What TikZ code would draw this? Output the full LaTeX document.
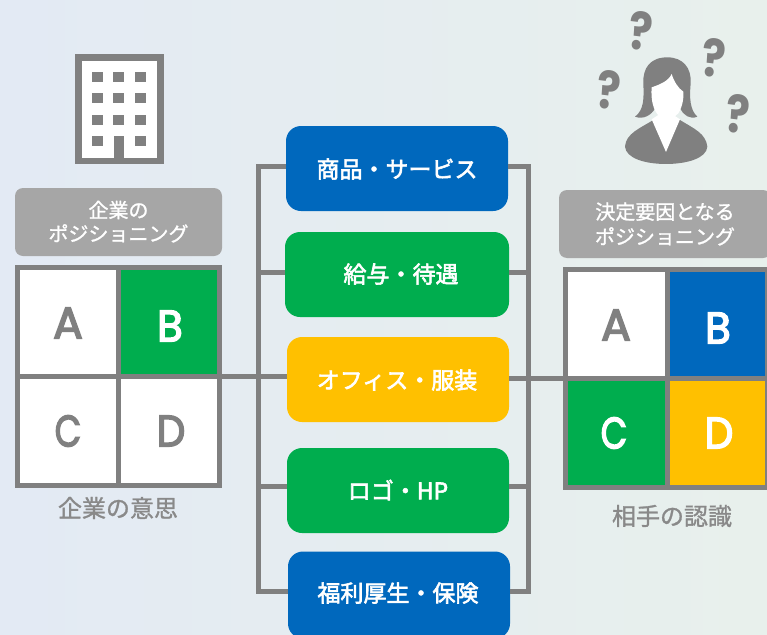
\documentclass[tikz,border=0pt]{standalone}
\usepackage{fontspec}
\setmainfont{Poppins}
\newfontfamily\jp{Noto Sans CJK JP}
\newfontfamily\jpm[FakeBold=2.5]{Noto Sans CJK JP}
\newfontfamily\jpl[FakeBold=1.2]{Noto Sans CJK JP}
\newfontfamily\lettr[FakeBold=3.5]{Poppins}
\definecolor{lineg}{HTML}{808080}
\definecolor{labelg}{HTML}{A6A6A6}
\definecolor{txtg}{HTML}{898989}
\definecolor{cblue}{HTML}{0068BD}
\definecolor{cgreen}{HTML}{00AD4E}
\definecolor{cyellow}{HTML}{FFC000}
\definecolor{bgl}{HTML}{E3EAF4}
\definecolor{bgm}{HTML}{E9EEF2}
\definecolor{bgr}{HTML}{E8F0EC}
\tikzset{
  box/.style={rounded corners=15pt,minimum width=222pt,minimum height=85pt,inner sep=0,text=white,font=\jpm\fontsize{23}{23}\selectfont},
  boxtext/.style={inner sep=0,text=white,font=\jpm\fontsize{23}{23}\selectfont},
  conn/.style={draw=lineg,line width=5pt},
  cell/.style={draw=lineg,line width=5pt,minimum width=101pt,minimum height=109pt,inner sep=0},
  letter/.style={inner sep=0,font=\lettr\fontsize{44}{44}\selectfont},
  greylabel/.style={fill=labelg,rounded corners=8pt,inner sep=0,text=white,align=center,font=\jpl\fontsize{20}{25}\selectfont},
  caption/.style={text=txtg,inner sep=0,font=\jpl\fontsize{24}{24}\selectfont},
  qm/.style={text=lineg,inner sep=0,xscale=0.85,font=\bfseries\fontsize{52}{52}\selectfont}
}
\begin{document}
\begin{tikzpicture}[x=1pt,y=-1pt]
\useasboundingbox (0,0) rectangle (767,634);
\shade[left color=bgl,middle color=bgm,right color=bgr] (0,0) rectangle (767,634);
% building
\fill[lineg] (75,54) rectangle (163.5,164);
\fill[white] (82,61) rectangle (157,158);
\foreach \x in {92,113,135}\foreach \y in {72,93,115}
  \fill[lineg] (\x,\y) rectangle ++(11,10);
\fill[lineg] (92,136) rectangle ++(11,10);
\fill[lineg] (135,136) rectangle ++(11,10);
\fill[lineg] (113.5,136) rectangle (124,158);
% person (zoom coordinates: 540+x/3, y/3)
\begin{scope}[shift={(540,0)},x=0.3333pt,y=-0.3333pt]
\fill[lineg] (255,440) .. controls (258,400) and (300,385) .. (340,360) -- (420,360) .. controls (460,385) and (498,400) .. (502,440) .. controls (500,475) and (440,492) .. (378,492) .. controls (315,492) and (258,475) .. (255,440) -- cycle;
\fill[lineg] (382,172) .. controls (330,172) and (308,205) .. (310,250) .. controls (312,295) and (312,330) .. (285,350) .. controls (310,360) and (335,345) .. (345,325) -- (420,325) .. controls (430,345) and (450,360) .. (472,350) .. controls (450,330) and (448,295) .. (452,250) .. controls (455,205) and (430,172) .. (382,172) -- cycle;
\fill[white] (395,222) .. controls (385,245) and (355,255) .. (335,262) .. controls (332,300) and (340,335) .. (360,350) .. controls (385,365) and (400,355) .. (415,340) .. controls (428,320) and (432,290) .. (430,275) .. controls (415,265) and (402,245) .. (395,222) -- cycle;
\fill[white] (335,358) -- (378,456) -- (420,358) -- (400,345) -- (355,345) -- cycle;
\end{scope}
\node[qm,rotate=-6] (q1) at (641,31) {?};
\node[qm,rotate=-6] (q2) at (714,58) {?};
\node[qm,rotate=-6] (q3) at (609,90) {?};
\node[qm,rotate=-6] (q4) at (738,114) {?};
% bus lines
\coordinate (lt) at (258,166);
\coordinate (lb) at (258,591);
\coordinate (rt) at (528,166);
\coordinate (rb) at (528,591);
\coordinate (l2) at (258,272);
\coordinate (l4) at (258,486);
\coordinate (r2) at (528,272);
\coordinate (r4) at (528,486);
% grids
\node[draw=lineg,line width=5pt,minimum width=202pt,minimum height=218pt,inner sep=0] (lgrid) at (118.5,376.5) {};
\node[draw=lineg,line width=5pt,minimum width=202pt,minimum height=218pt,inner sep=0] (rgrid) at (666.5,378.5) {};
% boxes
\node[box,fill=cblue] (b1) at (397,168.5) {};
\node[box,fill=cgreen,minimum width=224pt] (b2) at (397,274.5) {};
\node[box,fill=cyellow] (b3) at (398,379.5) {};
\node[box,fill=cgreen] (b4) at (398,490.5) {};
\node[box,fill=cblue,minimum height=87pt] (b5) at (399,595) {};
% connectors
\draw[conn] (b1.west |- lt) -- (lt) -- (lb) -- (b5.west |- lb);
\draw[conn] (b1.east |- rt) -- (rt) -- (rb) -- (b5.east |- rb);
\draw[conn] (l2) -- (b2.west |- l2);
\draw[conn] (r2) -- (b2.east |- r2);
\draw[conn] (l4) -- (b4.west |- l4);
\draw[conn] (r4) -- (b4.east |- r4);
\draw[conn] (lgrid.east) -- (b3.west |- lgrid.east);
\draw[conn] (b3.east |- rgrid.west) -- (rgrid.west);
% box labels
\node[boxtext] (t1) at (397,169) {商品・サービス};
\node[boxtext] (t2) at (401,274) {給与・待遇};
\node[boxtext] (t3) at (397,380) {オフィス・服装};
\node[boxtext] (t4) at (398,490) {ロゴ・HP};
\node[boxtext] (t5) at (398,593) {福利厚生・保険};
% left grid cells
\node[cell,fill=white] (la) at (68,322) {};
\node[cell,fill=cgreen] (lb2) at (169,322) {};
\node[cell,fill=white] (lc) at (68,431) {};
\node[cell,fill=white] (ld) at (169,431) {};
\node[letter,text=lineg] (lat) at (68,323) {A};
\node[letter,text=white,xscale=0.95] (lbt) at (170,326) {B};
\node[letter,text=lineg,xscale=0.78] (lct) at (68,431) {C};
\node[letter,text=lineg,xscale=0.92] (ldt) at (171,431) {D};
% right grid cells
\node[cell,fill=white,minimum width=102pt] (ra) at (616.5,324) {};
\node[cell,fill=cblue,minimum width=100pt] (rb2) at (717.5,324) {};
\node[cell,fill=cgreen,minimum width=102pt] (rc) at (616.5,433) {};
\node[cell,fill=cyellow,minimum width=100pt] (rd) at (717.5,433) {};
\node[letter,text=lineg] (rat) at (616,325) {A};
\node[letter,text=white,xscale=0.95] (rbt) at (718,328) {B};
\node[letter,text=white,xscale=0.78] (rct) at (614,433) {C};
\node[letter,text=white,xscale=0.92] (rdt) at (719,433) {D};
% grey labels and captions
\node[greylabel,minimum width=207pt,minimum height=68pt] (ll) at (118.5,222) {\raisebox{2pt}{\shortstack[c]{企業の\\[2pt]ポジショニング}}};
\node[greylabel,minimum width=212pt,minimum height=68pt] (rl) at (665,224) {決定要因となる\\ポジショニング};
\node[caption] (lcap) at (118,508) {企業の意思};
\node[caption] (rcap) at (672,516) {相手の認識};
\end{tikzpicture}
\end{document}
